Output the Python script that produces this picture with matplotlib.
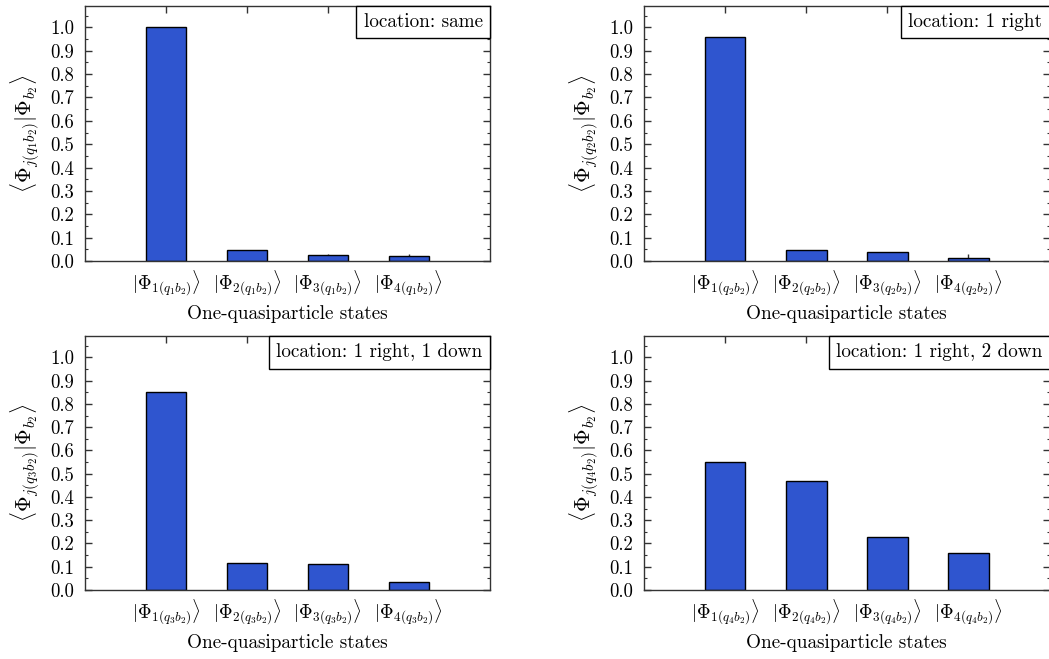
import numpy as np
import matplotlib
matplotlib.use('Agg')
import matplotlib.pyplot as plt
from matplotlib.offsetbox import AnchoredText

plt.rcParams['font.family'] = 'serif'
plt.rcParams['font.serif'] = ['cmr10']
plt.rcParams['mathtext.fontset'] = 'cm'
plt.rcParams['axes.formatter.use_mathtext'] = True

# data
states = [1, 2, 3, 4]
quasi = ['q_1', 'q_2', 'q_3', 'q_4']
locations = ['location: same', 'location: 1 right',
             'location: 1 right, 1 down', 'location: 1 right, 2 down']
overlap_q1 = [1.0, 0.047, 0.027, 0.020]
overlap_q2 = [0.957, 0.047, 0.037, 0.012]
overlap_q3 = [0.850, 0.116, 0.113, 0.034]
overlap_q4 = [0.549, 0.469, 0.227, 0.159]
overlaps = [overlap_q1, overlap_q2, overlap_q3, overlap_q4]

bar_color = '#2f55cf'
fs = 13.8

fig = plt.figure(figsize=(10.49, 6.59), dpi=100)
# axes rectangles (left, bottom, width, height) in figure fraction
rects = [
    [0.081, 0.604, 0.386, 0.387],
    [0.614, 0.604, 0.3865, 0.387],
    [0.081, 0.1047, 0.386, 0.3855],
    [0.614, 0.1047, 0.3865, 0.3855],
]

for i in range(4):
    ax = fig.add_axes(rects[i])
    ax.bar(states, overlaps[i], width=0.5, color=bar_color, edgecolor='black', linewidth=1.0, zorder=2)
    ax.set_xlim(0, 5)
    ax.set_ylim(0, 1.092)
    ax.set_yticks(np.arange(0, 1.01, 0.1))
    ax.set_yticklabels([f'{v:.1f}' for v in np.arange(0, 1.01, 0.1)])
    ax.set_yticks(np.arange(0.05, 1.09, 0.1), minor=True)
    ax.set_xticks(states)
    q = quasi[i]
    ax.set_xticklabels([r'$|\Phi_{%d(%sb_2)}\rangle$' % (s, q) for s in states])
    ax.tick_params(axis='both', which='both', direction='in', top=True, right=True,
                   labelsize=13.5, color='#333333', zorder=3)
    ax.tick_params(axis='both', which='major', length=5, width=1)
    ax.tick_params(axis='y', which='minor', length=2.5, width=0.8)
    ax.tick_params(axis='y', which='major', pad=8)
    ax.tick_params(axis='x', which='major', pad=6)
    for sp in ax.spines.values():
        sp.set_color('#333333')
        sp.set_linewidth(1.0)
    ax.set_xlabel('One-quasiparticle states', fontsize=fs, labelpad=5)
    ax.set_ylabel(r'$\langle\Phi_{j(%sb_2)}|\Phi_{b_2}\rangle$' % q, fontsize=15.5, labelpad=6)
    at = AnchoredText(locations[i], loc='upper right', prop=dict(size=fs),
                      pad=0.38, borderpad=0, frameon=True)
    at.patch.set_boxstyle('square,pad=0')
    at.patch.set_edgecolor('black')
    at.patch.set_linewidth(1.0)
    ax.add_artist(at)

fig.savefig('out.png', dpi=100)
